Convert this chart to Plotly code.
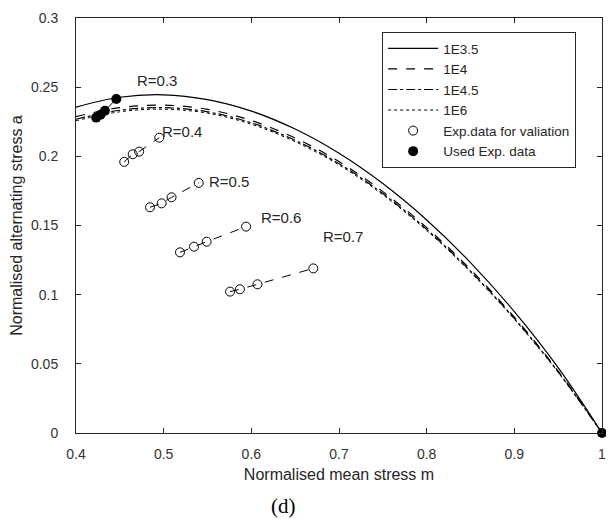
import plotly.graph_objects as go

# model curves
curve_x = [0.40, 0.45, 0.50, 0.55, 0.60, 0.65, 0.70, 0.75, 0.80, 0.85, 0.90, 0.95, 1.00]
y_1e35 = [0.2355, 0.2427, 0.2445, 0.2410, 0.2327, 0.2197, 0.2022, 0.1803, 0.1540, 0.1232, 0.0878, 0.0473, 0.0]
y_1e4 = [0.2287, 0.2352, 0.2370, 0.2340, 0.2259, 0.2132, 0.1962, 0.1745, 0.1485, 0.1182, 0.0838, 0.0448, 0.0]
y_1e45 = [0.2268, 0.2333, 0.2352, 0.2322, 0.2242, 0.2116, 0.1947, 0.1731, 0.1472, 0.1170, 0.0828, 0.0442, 0.0]
y_1e6 = [0.2257, 0.2322, 0.2341, 0.2312, 0.2232, 0.2106, 0.1938, 0.1722, 0.1464, 0.1163, 0.0822, 0.0438, 0.0]

# experimental data used for fitting (R=0.3 and the m=1 point)
used_x = [0.423, 0.428, 0.433, 0.446]
used_y = [0.228, 0.230, 0.233, 0.2415]
end_x = [1.0]
end_y = [0.0]

# experimental data for validation
r_labels = ["R=0.4", "R=0.5", "R=0.6", "R=0.7"]
val_x = [
    [0.455, 0.4647, 0.472, 0.495],
    [0.4844, 0.4977, 0.509, 0.540],
    [0.5186, 0.5346, 0.549, 0.594],
    [0.5757, 0.587, 0.607, 0.6707],
]
val_y = [
    [0.196, 0.2015, 0.2034, 0.2135],
    [0.1632, 0.166, 0.1704, 0.1808],
    [0.1306, 0.1347, 0.1383, 0.1492],
    [0.1022, 0.1039, 0.1075, 0.119],
]

# label positions
label_text = ["R=0.3", "R=0.4", "R=0.5", "R=0.6", "R=0.7"]
label_x = [0.4924, 0.521, 0.5745, 0.6338, 0.7045]
label_y = [0.2545, 0.2176, 0.1815, 0.1555, 0.1417]

x_ticks = [0.4, 0.5, 0.6, 0.7, 0.8, 0.9, 1.0]
x_ticktext = ["0.4", "0.5", "0.6", "0.7", "0.8", "0.9", "1"]
y_ticks = [0, 0.05, 0.1, 0.15, 0.2, 0.25, 0.3]
y_ticktext = ["0", "0.05", "0.1", "0.15", "0.2", "0.25", "0.3"]

fig = go.Figure()

for name, ys, dash in [
    ("1E3.5", y_1e35, "solid"),
    ("1E4", y_1e4, "dash"),
    ("1E4.5", y_1e45, "dashdot"),
    ("1E6", y_1e6, "dot"),
]:
    fig.add_trace(go.Scatter(
        x=curve_x, y=ys, mode="lines", name=name,
        line=dict(color="black", width=1.2 if dash != "dot" else 1, dash=dash,
                  shape="spline", smoothing=1.0),
    ))

# validation groups
for i in range(len(r_labels)):
    fig.add_trace(go.Scatter(
        x=val_x[i], y=val_y[i], mode="lines+markers",
        line=dict(color="black", width=1, dash="dash"),
        marker=dict(symbol="circle-open", size=9, color="black", line=dict(width=1)),
        showlegend=False,
    ))
fig.add_trace(go.Scatter(
    x=[None], y=[None], mode="markers", name="Exp.data for valiation",
    marker=dict(symbol="circle-open", size=9, color="black", line=dict(width=1)),
))

fig.add_trace(go.Scatter(
    x=used_x, y=used_y, mode="lines+markers",
    line=dict(color="black", width=1),
    marker=dict(symbol="circle", size=10, color="black"),
    showlegend=False,
))
fig.add_trace(go.Scatter(
    x=end_x, y=end_y, mode="markers", name="Used Exp. data",
    marker=dict(symbol="circle", size=10, color="black"),
    cliponaxis=False,
))

for t, x, y in zip(label_text, label_x, label_y):
    fig.add_annotation(x=x, y=y, text=t, showarrow=False,
                       font=dict(size=15, color="#262626"))

fig.add_annotation(x=0.395, y=-0.176, xref="paper", yref="paper", text="(d)",
                   showarrow=False, yanchor="middle",
                   font=dict(family="Liberation Serif", size=21, color="black"))

axis_style = dict(
    showline=True, linecolor="#262626", linewidth=1, mirror="ticks",
    ticks="inside", ticklen=5, tickcolor="#262626", showgrid=False, zeroline=False,
    tickfont=dict(size=14, color="#333333"), automargin=False,
    ticklabeloverflow="allow",
)

# page body has an 8px margin, so the figure is a bit smaller than the window
fig.update_layout(
    width=606, height=511,
    margin=dict(l=68, r=12, t=10, b=86),
    plot_bgcolor="white", paper_bgcolor="white",
    font=dict(family="Liberation Sans, Arial", color="#262626"),
    xaxis=dict(range=[0.4, 1.0], tickvals=x_ticks, ticktext=x_ticktext,
               ticklabelstandoff=8,
               title=dict(text="Normalised mean stress m", font=dict(size=16), standoff=8),
               **axis_style),
    yaxis=dict(range=[0, 0.3], tickvals=y_ticks, ticktext=y_ticktext,
               ticklabelstandoff=14,
               title=dict(text="Normalised alternating stress a", font=dict(size=16), standoff=5),
               **axis_style),
    legend=dict(x=0.582, y=0.966, xanchor="left", yanchor="top",
                bordercolor="#262626", borderwidth=1, bgcolor="white",
                font=dict(size=13.5, color="#262626"), tracegroupgap=0,
                itemwidth=50),
)

fig.write_html("out.html")
